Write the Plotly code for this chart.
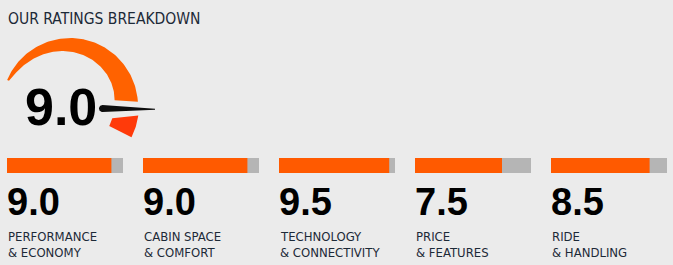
import numpy as np
import plotly.graph_objects as go

# ---------------- data ----------------
title_text = "OUR RATINGS BREAKDOWN"
overall_score = 9.0
max_score = 10
scores = [9.0, 9.0, 9.5, 7.5, 8.5]
label_line1 = ["PERFORMANCE", "CABIN SPACE", "TECHNOLOGY", "PRICE", "RIDE"]
label_line2 = ["& ECONOMY", "& COMFORT", "& CONNECTIVITY", "& FEATURES", "& HANDLING"]

# ---------------- style ----------------
W, H = 673, 265
BG = "#ebebeb"
ORANGE = "#ff5a00"
GAUGE_ORANGE = "#ff6200"
GAUGE_RED = "#ff3a0a"
GREY = "#b5b5b5"
NAVY = "#1c2937"
COND = "DejaVu Sans Condensed, DejaVu Sans, sans-serif"
DIGITS = "Liberation Sans, Arial, sans-serif"

bar_left0, bar_pitch, bar_w = 7, 136, 116
bar_top, bar_bot = 158, 173

fig = go.Figure()

# ---------------- bars ----------------
layout_axes = {}
for i, s in enumerate(scores):
    xa = "x" if i == 0 else f"x{i+1}"
    fig.add_trace(go.Bar(x=[max_score], y=[0], orientation="h", width=1,
                         marker=dict(color=GREY, line=dict(width=0)),
                         xaxis=xa, yaxis="y", hoverinfo="skip", showlegend=False))
    fig.add_trace(go.Bar(x=[s], y=[0], orientation="h", width=1,
                         marker=dict(color=ORANGE, line=dict(width=0)),
                         xaxis=xa, yaxis="y", hoverinfo="skip", showlegend=False))
    left = bar_left0 + i * bar_pitch
    key = "xaxis" if i == 0 else f"xaxis{i+1}"
    layout_axes[key] = dict(domain=[left / W, (left + bar_w) / W], range=[0, max_score],
                            visible=False, anchor="y", fixedrange=True)
layout_axes["yaxis"] = dict(domain=[1 - bar_bot / H, 1 - bar_top / H], range=[-0.5, 0.5],
                            visible=False, anchor="x", fixedrange=True)

# ---------------- gauge (pixel axis) ----------------
layout_axes["xaxis6"] = dict(domain=[0, 1], range=[0, W], visible=False, anchor="y6", fixedrange=True)
layout_axes["yaxis6"] = dict(domain=[0, 1], range=[H, 0], visible=False, anchor="x6", fixedrange=True)

cx, cy, R = 70.0, 106.0, 68.0
a_start, a_end_out, a_end_in = 157.6, 3.5, 7.5
t0, t1 = 2.0, 23.0

def pt(r, deg):
    a = np.radians(deg)
    return cx + r * np.cos(a), cy - r * np.sin(a)

n = 120
ao = np.linspace(a_start, a_end_out, n)
ai = np.linspace(a_end_in, a_start, n)
fi = (a_start - ai) / (a_start - a_end_in)
ti = t0 + (t1 - t0) * fi ** 0.75
xo, yo = pt(R, ao)
xi, yi = pt(R - ti, ai)
gx = np.concatenate([xo, xi, xo[:1]])
gy = np.concatenate([yo, yi, yo[:1]])
fig.add_trace(go.Scatter(x=gx, y=gy, fill="toself", fillcolor=GAUGE_ORANGE, mode="lines",
                         line=dict(width=0, color=GAUGE_ORANGE), xaxis="x6", yaxis="y6",
                         hoverinfo="skip", showlegend=False))

# red end zone
ro = np.linspace(-8.0, -27.0, 30)
ri = np.linspace(-27.0, -16.0, 30)
rxo, ryo = pt(R + 1.0, ro)
rxi, ryi = pt(R - 24.0, ri)
rx = np.concatenate([rxo, rxi, rxo[:1]])
ry = np.concatenate([ryo, ryi, ryo[:1]])
fig.add_trace(go.Scatter(x=rx, y=ry, fill="toself", fillcolor=GAUGE_RED, mode="lines",
                         line=dict(width=0, color=GAUGE_RED), xaxis="x6", yaxis="y6",
                         hoverinfo="skip", showlegend=False))

# needle
nx0, ny0, nr = 102.5, 108.5, 3.6
nx1, ny1, ntip = 155.0, 109.3, 0.5
cap = np.linspace(90, 270, 30)
capx = nx0 + nr * np.cos(np.radians(cap))
capy = ny0 - nr * np.sin(np.radians(cap))
ndx = np.concatenate([capx, [nx1, nx1, capx[0]]])
ndy = np.concatenate([capy, [ny1 + ntip, ny1 - ntip, capy[0]]])
fig.add_trace(go.Scatter(x=ndx, y=ndy, fill="toself", fillcolor="#0d0d0d", mode="lines",
                         line=dict(width=0, color="#0d0d0d"), xaxis="x6", yaxis="y6",
                         hoverinfo="skip", showlegend=False))

# ---------------- text ----------------
ann = []
ann.append(dict(text=title_text, x=5.5, y=18.5, xref="x6", yref="y6", xanchor="left", yanchor="middle",
                showarrow=False, font=dict(family=COND, size=15.5, color=NAVY)))
ann.append(dict(text=f"{overall_score:.1f}", x=23, y=106.5, xref="x6", yref="y6", xanchor="left",
                yanchor="middle", showarrow=False,
                font=dict(family=DIGITS, size=52, color="#000000", weight=700)))
for i, s in enumerate(scores):
    left = bar_left0 + i * bar_pitch
    ann.append(dict(text=f"{s:.1f}", x=left - 2.5, y=201.5, xref="x6", yref="y6", xanchor="left",
                    yanchor="middle", showarrow=False,
                    font=dict(family=DIGITS, size=38, color="#000000", weight=700)))
    ann.append(dict(text=label_line1[i], x=left - 1.5, y=236.5, xref="x6", yref="y6", xanchor="left",
                    yanchor="middle", showarrow=False, font=dict(family=COND, size=13, color=NAVY)))
    ann.append(dict(text=label_line2[i], x=left - 1.5, y=252.5, xref="x6", yref="y6", xanchor="left",
                    yanchor="middle", showarrow=False, font=dict(family=COND, size=13, color=NAVY)))

fig.update_layout(width=W, height=H, margin=dict(l=0, r=0, t=0, b=0), paper_bgcolor=BG,
                  plot_bgcolor="rgba(0,0,0,0)", barmode="overlay", showlegend=False,
                  annotations=ann, **layout_axes)

fig.write_html("out.html", config=dict(displayModeBar=False, staticPlot=True))
